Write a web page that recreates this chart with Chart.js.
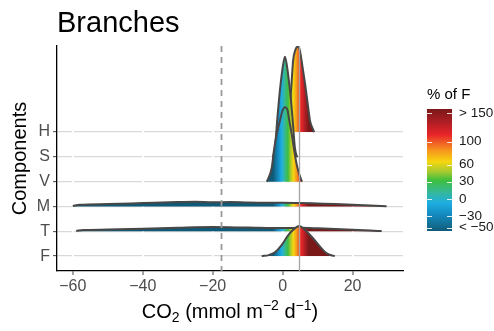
<!DOCTYPE html>
<html>
<head>
<meta charset="utf-8">
<script src="https://cdn.jsdelivr.net/npm/chart.js@4.4.1/dist/chart.umd.min.js"></script>
<style>
  html, body { margin: 0; padding: 0; background: #fff; overflow: hidden; }
  canvas { display: block; }
</style>
</head>
<body>
<canvas id="ridges" width="494" height="331"></canvas>
<script>
// components, bottom to top
const components = ["F", "T", "M", "V", "S", "H"];
const yTicks = [1, 2, 3, 4, 5, 6];
const xTicks = [-60, -40, -20, 0, 20];

// ridge outlines (x in mmol m-2 d-1, height in ridge units)
const fX = [-6.0, -4.0, -2.2, -0.3, 1.6, 3.5, 4.75, 6.4, 8.3, 10.7, 12.6, 14.9];
const fH = [0, 0.04, 0.15, 0.44, 0.85, 1.12, 1.21, 1.05, 0.78, 0.38, 0.11, 0];
const tX = [-59, -57, -50, -40, -30, -20, -10, 0, 5, 10, 15, 20, 25, 28.3];
const tH = [0.02, 0.05, 0.07, 0.1, 0.14, 0.17, 0.15, 0.13, 0.14, 0.12, 0.09, 0.06, 0.03, 0.01];
const mX = [-60, -58, -50, -40, -30, -25, -20, -15, -10, -5, 0, 5, 10, 15, 20, 25, 29.7];
const mH = [0.02, 0.07, 0.1, 0.14, 0.18, 0.19, 0.17, 0.18, 0.16, 0.15, 0.15, 0.14, 0.12, 0.1, 0.07, 0.04, 0.01];
const vX = [-4.6, -4.4, -3.1, -2.5, -1.7, -0.77, 0, 0.65, 1.4, 1.9, 2.6, 3.3, 4.2, 5.4, 5.6];
const vH = [0, 0.04, 0.58, 1.25, 1.92, 2.46, 2.88, 3.0, 2.88, 2.46, 1.92, 1.25, 0.58, 0.04, 0];
const sX = [-2.9, -2.7, -2.2, -1.5, -0.8, 0, 0.65, 1.3, 2.1, 2.8, 3.5, 4.0, 4.3];
const sH = [0, 0.04, 0.37, 1.58, 2.66, 3.6, 4.04, 3.6, 2.66, 1.6, 0.37, 0.04, 0];
const hX = [1.6, 1.9, 2.1, 2.6, 3.0, 3.6, 4.3, 4.9, 5.4, 6.4, 7.3, 7.8, 8.7, 9.0];
const hH = [0, 0.34, 1.0, 2.1, 2.89, 3.3, 3.45, 3.3, 2.89, 1.95, 1.0, 0.47, 0.1, 0];

// reference lines
const fMean = 4.75;
const dashedAt = -17.6;

// colour scale: % of F
const colorStops = [
  [-56, "#0e5a78"], [-48, "#136a8c"], [-28, "#1489bf"], [-7, "#1eaee2"],
  [10, "#34b7a0"], [33, "#40bf3c"], [47, "#a2c930"], [65, "#f5d60f"],
  [85, "#f7941d"], [112, "#e8252a"], [138, "#a51d22"], [157, "#7a1818"]
];
const legendValues = [150, 100, 60, 30, 0, -30, -50];
const legendLabels = ["> 150", "100", "60", "30", "0", "\u221230", "< \u221250"];

const ridgeXs = [fX, tX, mX, vX, sX, hX];
const ridgeHs = [fH, tH, mH, vH, sH, hH];

const pMin = colorStops[0][0];
const pMax = colorStops[colorStops.length - 1][0];

function pctToX(p) {
    return p / 100 * fMean;
}

function ridgeFill(context) {
    const chart = context.chart;
    const { ctx, chartArea, scales } = chart;
    if (!chartArea) return "#888";
    const x0 = scales.x.getPixelForValue(pctToX(pMin));
    const x1 = scales.x.getPixelForValue(pctToX(pMax));
    const g = ctx.createLinearGradient(x0, 0, x1, 0);
    colorStops.forEach(([p, c]) => g.addColorStop((p - pMin) / (pMax - pMin), c));
    return g;
}

const datasets = components.map((name, i) => ({
    label: name,
    data: ridgeXs[i].map((x, j) => ({ x: x, y: i + 1 + ridgeHs[i][j] })),
    fill: { value: i + 1 },
    backgroundColor: ridgeFill,
    borderColor: "#474747",
    borderWidth: 2,
    pointRadius: 0,
    tension: 0.4,
    cubicInterpolationMode: "monotone"
}));

// vertical reference lines, on top of the ridges
const refLines = {
    id: "refLines",
    afterDatasetsDraw(chart) {
        const { ctx, chartArea, scales } = chart;
        ctx.save();
        ctx.beginPath();
        ctx.rect(chartArea.left, chartArea.top, chartArea.right - chartArea.left, chartArea.bottom - chartArea.top);
        ctx.clip();

        let x = Math.round(scales.x.getPixelForValue(fMean)) + 0.5;
        ctx.strokeStyle = "#a3a3a3";
        ctx.lineWidth = 1.3;
        ctx.beginPath();
        ctx.moveTo(x, chartArea.top);
        ctx.lineTo(x, chartArea.bottom);
        ctx.stroke();

        x = Math.round(scales.x.getPixelForValue(dashedAt)) + 0.5;
        ctx.strokeStyle = "#9a9a9a";
        ctx.lineWidth = 1.8;
        ctx.setLineDash([6, 5]);
        ctx.beginPath();
        ctx.moveTo(x, chartArea.top);
        ctx.lineTo(x, chartArea.bottom);
        ctx.stroke();
        ctx.restore();
    }
};

// title, x axis title with sub/superscripts, colour bar legend
const decorations = {
    id: "decorations",
    afterDraw(chart) {
        const { ctx, chartArea } = chart;
        ctx.save();
        ctx.fillStyle = "#000";
        ctx.textBaseline = "alphabetic";
        ctx.textAlign = "left";
        ctx.font = "29px 'Liberation Sans', Arial, sans-serif";
        ctx.fillText("Branches", chartArea.left, 32);

        // x title: CO2 (mmol m-2 d-1)
        const big = "20px 'Liberation Sans', Arial, sans-serif";
        const small = "14px 'Liberation Sans', Arial, sans-serif";
        const parts = [
            ["CO", big, 0], ["2", small, 4], [" (mmol m", big, 0], ["\u22122", small, -8],
            [" d", big, 0], ["\u22121", small, -8], [")", big, 0]
        ];
        let w = 0;
        parts.forEach(([t, f]) => { ctx.font = f; w += ctx.measureText(t).width; });
        let x = (chartArea.left + chartArea.right) / 2 - w / 2;
        const base = 318;
        parts.forEach(([t, f, dy]) => {
            ctx.font = f;
            ctx.fillText(t, x, base + dy);
            x += ctx.measureText(t).width;
        });

        // colour bar
        const barL = 427, barW = 25, barTop = 109, barBot = 231;
        const yOf = p => barTop + (pMax - p) / (pMax - pMin) * (barBot - barTop);
        const g = ctx.createLinearGradient(0, barBot, 0, barTop);
        colorStops.forEach(([p, c]) => g.addColorStop((p - pMin) / (pMax - pMin), c));
        ctx.fillStyle = g;
        ctx.fillRect(barL, barTop, barW, barBot - barTop);

        ctx.strokeStyle = "rgba(255,255,255,0.85)";
        ctx.lineWidth = 1;
        legendValues.forEach(v => {
            const y = Math.round(yOf(v)) + 0.5;
            ctx.beginPath();
            ctx.moveTo(barL, y); ctx.lineTo(barL + 5, y);
            ctx.moveTo(barL + barW - 5, y); ctx.lineTo(barL + barW, y);
            ctx.stroke();
        });

        ctx.fillStyle = "#1a1a1a";
        ctx.font = "13.5px 'Liberation Sans', Arial, sans-serif";
        ctx.textBaseline = "middle";
        legendValues.forEach((v, i) => ctx.fillText(legendLabels[i], barL + barW + 7, yOf(v)));

        ctx.fillStyle = "#000";
        ctx.textBaseline = "alphabetic";
        ctx.font = "15px 'Liberation Sans', Arial, sans-serif";
        ctx.fillText("% of F", barL, 99);
        ctx.restore();
    }
};

new Chart(document.getElementById("ridges"), {
    type: "line",
    data: { datasets: datasets },
    options: {
        responsive: false,
        animation: false,
        devicePixelRatio: 1,
        layout: { padding: { left: 0, right: 91, top: 46, bottom: 0 } },
        plugins: { legend: { display: false }, tooltip: { enabled: false } },
        scales: {
            y: {
                type: "linear",
                min: 0.4,
                max: 9.47,
                afterFit: s => { s.width = 57; },
                afterBuildTicks: s => { s.ticks = yTicks.map(v => ({ value: v })); },
                ticks: {
                    callback: v => components[v - 1],
                    color: "#4d4d4d",
                    font: { family: "'Liberation Sans', Arial, sans-serif", size: 16 },
                    padding: 3,
                    autoSkip: false
                },
                grid: { color: "#d9d9d9", lineWidth: 1.3, tickColor: "#444", tickLength: 4, tickWidth: 1, z: -1 },
                border: { display: true, color: "#000", width: 1.3 },
                title: {
                    display: true,
                    text: "Components",
                    color: "#000",
                    font: { family: "'Liberation Sans', Arial, sans-serif", size: 20 },
                    padding: { top: 8, bottom: 0 }
                }
            },
            x: {
                type: "linear",
                min: -64.5,
                max: 34.4,
                afterFit: s => { s.height = 60; },
                afterBuildTicks: s => { s.ticks = xTicks.map(v => ({ value: v })); },
                ticks: {
                    callback: v => String(v).replace("-", "\u2212"),
                    color: "#4d4d4d",
                    font: { family: "'Liberation Sans', Arial, sans-serif", size: 16 },
                    padding: 2,
                    maxRotation: 0,
                    autoSkip: false
                },
                grid: { color: "#ffffff", lineWidth: 2, tickColor: "#444", tickLength: 4, tickWidth: 1 },
                border: { display: true, color: "#000", width: 1.3 }
            }
        }
    },
    plugins: [refLines, decorations]
});
</script>
</body>
</html>
